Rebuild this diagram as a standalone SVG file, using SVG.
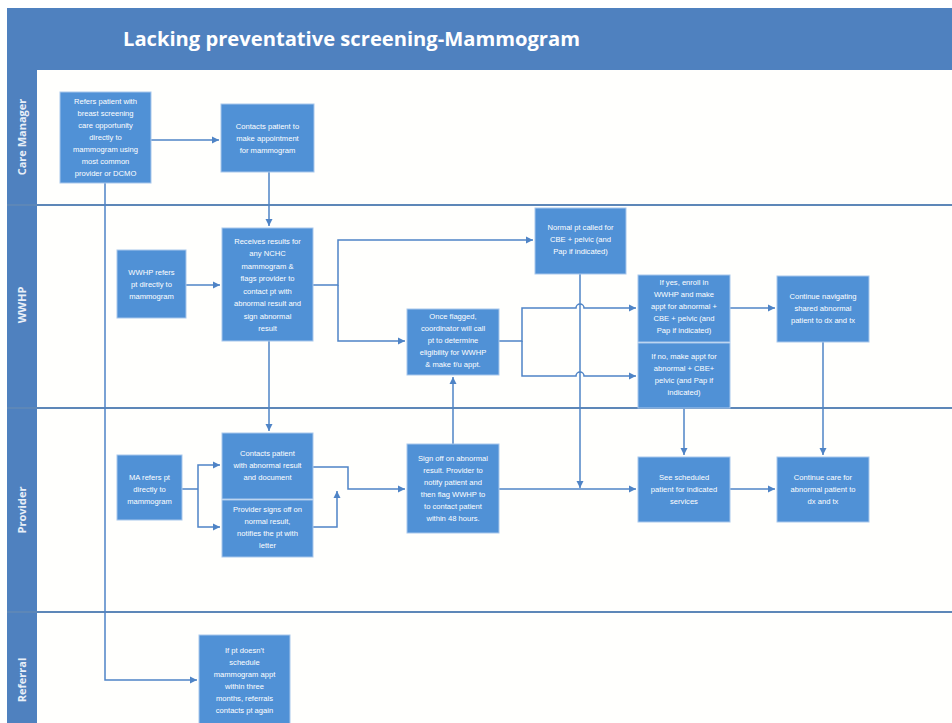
<svg xmlns="http://www.w3.org/2000/svg" width="952" height="723" viewBox="0 0 952 723">
<defs>
<marker id="ah" markerUnits="userSpaceOnUse" markerWidth="8" markerHeight="8" refX="7" refY="4" orient="auto">
<path d="M0,0.5 L7,4 L0,7.5 Z" fill="#4f84c6"/>
</marker>
</defs>
<style>
.box{fill:#5091d6;stroke:#a8c7ec;stroke-width:1}
.t{font-family:"Liberation Sans",Arial,sans-serif;font-size:7.6px;fill:#ffffff;text-anchor:middle}
.lane{font-family:"Open Sans","Liberation Sans",sans-serif;font-size:11px;font-weight:bold;fill:#e8eff8;text-anchor:middle}
.c{fill:none;stroke:#4f84c6;stroke-width:1.5}
.a{marker-end:url(#ah)}
.div{stroke:#5d87b8;stroke-width:2}
</style>
<rect x="0" y="0" width="952" height="723" fill="#ffffff"/>
<!-- frame -->
<rect x="7" y="8" width="945" height="715" fill="#4f81bf"/>
<rect x="37" y="70" width="915" height="653" fill="#fffffd"/>
<text x="123" y="46" font-family="'Open Sans','Liberation Sans',sans-serif" font-size="20" font-weight="bold" fill="#ffffff" textLength="457" lengthAdjust="spacingAndGlyphs">Lacking preventative screening-Mammogram</text>
<g id="lanes">
<line class="div" x1="7" y1="205" x2="952" y2="205"/>
<line class="div" x1="7" y1="408" x2="952" y2="408"/>
<line class="div" x1="7" y1="612" x2="952" y2="612"/>
<text class="lane" transform="translate(26,137) rotate(-90)">Care Manager</text>
<text class="lane" transform="translate(26,305) rotate(-90)">WWHP</text>
<text class="lane" transform="translate(26,510) rotate(-90)">Provider</text>
<text class="lane" transform="translate(26,680) rotate(-90)">Referral</text>
</g>
<g id="connectors">
<path class="c a" d="M151,140 H219"/>
<path class="c a" d="M105,183 V680 H197"/>
<path class="c a" d="M269,172 V226"/>
<path class="c a" d="M186,285 H220"/>
<path class="c a" d="M313,285 H338 V240 H533"/>
<path class="c a" d="M338,285 V341 H405"/>
<path class="c a" d="M499,341 H522 V308 H576 A4,4 0 0 1 584,308 H636"/>
<path class="c a" d="M522,341 V376 H576 A4,4 0 0 1 584,376 H636"/>
<path class="c a" d="M580,274 V488"/>
<path class="c a" d="M730,308 H775"/>
<path class="c a" d="M823,342 V455"/>
<path class="c a" d="M684,408 V455"/>
<path class="c a" d="M269,341 V431"/>
<path class="c" d="M182,489 H198"/>
<path class="c a" d="M198,489 V465 H220"/>
<path class="c a" d="M198,489 V527 H220"/>
<path class="c a" d="M313,467 H348 V489 H405"/>
<path class="c a" d="M313,527 H337 V491"/>
<path class="c a" d="M453,444 V377"/>
<path class="c a" d="M499,489 H636"/>
<path class="c a" d="M730,489 H775"/>
</g>
<g id="n1"><rect class="box" x="60" y="92" width="91" height="91"/>
<text class="t"><tspan x="105.5" y="104">Refers patient with</tspan><tspan x="105.5" y="116">breast screening</tspan><tspan x="105.5" y="128">care opportunity</tspan><tspan x="105.5" y="140">directly to</tspan><tspan x="105.5" y="152">mammogram using</tspan><tspan x="105.5" y="164">most common</tspan><tspan x="105.5" y="176">provider or DCMO</tspan></text></g>
<g id="n2"><rect class="box" x="221" y="104" width="93" height="68"/>
<text class="t"><tspan x="267.5" y="129">Contacts patient to</tspan><tspan x="267.5" y="141">make appointment</tspan><tspan x="267.5" y="153">for mammogram</tspan></text></g>
<g id="n3"><rect class="box" x="117" y="250" width="69" height="68"/>
<text class="t"><tspan x="151.5" y="275">WWHP refers</tspan><tspan x="151.5" y="287">pt directly to</tspan><tspan x="151.5" y="299">mammogram</tspan></text></g>
<g id="n4"><rect class="box" x="222" y="228" width="91" height="113"/>
<text class="t"><tspan x="267.5" y="243.5">Receives results for</tspan><tspan x="267.5" y="256">any NCHC</tspan><tspan x="267.5" y="268.5">mammogram &amp;</tspan><tspan x="267.5" y="281">flags provider to</tspan><tspan x="267.5" y="293.5">contact pt with</tspan><tspan x="267.5" y="306">abnormal result and</tspan><tspan x="267.5" y="318.5">sign abnormal</tspan><tspan x="267.5" y="331">result</tspan></text></g>
<g id="n5"><rect class="box" x="535" y="208" width="91" height="66"/>
<text class="t"><tspan x="580.5" y="230">Normal pt called for</tspan><tspan x="580.5" y="242">CBE + pelvic (and</tspan><tspan x="580.5" y="254">Pap if indicated)</tspan></text></g>
<g id="n6"><rect class="box" x="407" y="309" width="92" height="66"/>
<text class="t"><tspan x="453" y="319">Once flagged,</tspan><tspan x="453" y="331">coordinator will call</tspan><tspan x="453" y="343">pt to determine</tspan><tspan x="453" y="355">eligibility for WWHP</tspan><tspan x="453" y="367">&amp; make f/u appt.</tspan></text></g>
<g id="n7"><rect class="box" x="638" y="275" width="92" height="67"/>
<text class="t"><tspan x="684" y="285">If yes, enroll in</tspan><tspan x="684" y="297">WWHP and make</tspan><tspan x="684" y="309">appt for abnormal +</tspan><tspan x="684" y="321">CBE + pelvic (and</tspan><tspan x="684" y="333">Pap if indicated)</tspan></text></g>
<g id="n8"><rect class="box" x="638" y="343" width="92" height="65"/>
<text class="t"><tspan x="684" y="359">If no, make appt for</tspan><tspan x="684" y="371">abnormal + CBE+</tspan><tspan x="684" y="383">pelvic (and Pap if</tspan><tspan x="684" y="395">indicated)</tspan></text></g>
<g id="n9"><rect class="box" x="777" y="276" width="92" height="66"/>
<text class="t"><tspan x="823" y="299">Continue navigating</tspan><tspan x="823" y="311">shared abnormal</tspan><tspan x="823" y="323">patient to dx and tx</tspan></text></g>
<g id="n10"><rect class="box" x="117" y="455" width="65" height="65"/>
<text class="t"><tspan x="149.5" y="480">MA refers pt</tspan><tspan x="149.5" y="492">directly to</tspan><tspan x="149.5" y="504">mammogram</tspan></text></g>
<g id="n11"><rect class="box" x="222" y="433" width="91" height="66"/>
<text class="t"><tspan x="267.5" y="456">Contacts patient</tspan><tspan x="267.5" y="468">with abnormal result</tspan><tspan x="267.5" y="480">and document</tspan></text></g>
<g id="n12"><rect class="box" x="222" y="500" width="91" height="57"/>
<text class="t"><tspan x="267.5" y="512">Provider signs off on</tspan><tspan x="267.5" y="524">normal result,</tspan><tspan x="267.5" y="536">notifies the pt with</tspan><tspan x="267.5" y="548">letter</tspan></text></g>
<g id="n13"><rect class="box" x="407" y="444" width="92" height="89"/>
<text class="t"><tspan x="453" y="461">Sign off on abnormal</tspan><tspan x="453" y="473">result. Provider to</tspan><tspan x="453" y="485">notify patient and</tspan><tspan x="453" y="497">then flag WWHP to</tspan><tspan x="453" y="509">to contact patient</tspan><tspan x="453" y="521">within 48 hours.</tspan></text></g>
<g id="n14"><rect class="box" x="638" y="457" width="92" height="65"/>
<text class="t"><tspan x="684" y="480">See scheduled</tspan><tspan x="684" y="492">patient for indicated</tspan><tspan x="684" y="504">services</tspan></text></g>
<g id="n15"><rect class="box" x="777" y="457" width="92" height="65"/>
<text class="t"><tspan x="823" y="480">Continue care for</tspan><tspan x="823" y="492">abnormal patient to</tspan><tspan x="823" y="504">dx and tx</tspan></text></g>
<g id="n16"><rect class="box" x="199" y="635" width="91" height="100"/>
<text class="t"><tspan x="244.5" y="653">If pt doesn't</tspan><tspan x="244.5" y="665">schedule</tspan><tspan x="244.5" y="677">mammogram appt</tspan><tspan x="244.5" y="689">within three</tspan><tspan x="244.5" y="701">months, referrals</tspan><tspan x="244.5" y="713">contacts pt again</tspan></text></g>
</svg>
